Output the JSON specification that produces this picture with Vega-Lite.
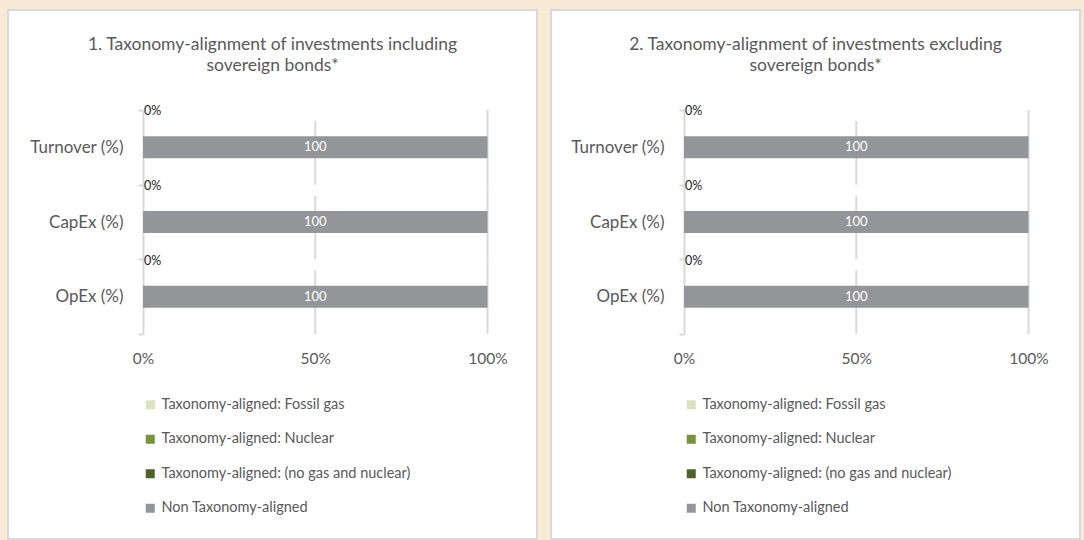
{
  "$schema": "https://vega.github.io/schema/vega-lite/v6.json",
  "background": "#F9E9D7",
  "padding": {"left": 7, "top": 0, "right": 3, "bottom": 0},
  "spacing": 12,
  "config": {
    "view": {"fill": "white", "stroke": "#d9d9d9", "strokeWidth": 2},
    "font": "Lato"
  },
  "resolve": {"scale": {"color": "independent"}, "legend": {"color": "independent"}},
  "datasets": {
    "bars": [
      {"panel": 1, "category": "Turnover (%)", "series": "Taxonomy-aligned: Fossil gas", "value": 0},
      {"panel": 1, "category": "Turnover (%)", "series": "Taxonomy-aligned: Nuclear", "value": 0},
      {"panel": 1, "category": "Turnover (%)", "series": "Taxonomy-aligned: (no gas and nuclear)", "value": 0},
      {"panel": 1, "category": "Turnover (%)", "series": "Non Taxonomy-aligned", "value": 100},
      {"panel": 1, "category": "CapEx (%)", "series": "Taxonomy-aligned: Fossil gas", "value": 0},
      {"panel": 1, "category": "CapEx (%)", "series": "Taxonomy-aligned: Nuclear", "value": 0},
      {"panel": 1, "category": "CapEx (%)", "series": "Taxonomy-aligned: (no gas and nuclear)", "value": 0},
      {"panel": 1, "category": "CapEx (%)", "series": "Non Taxonomy-aligned", "value": 100},
      {"panel": 1, "category": "OpEx (%)", "series": "Taxonomy-aligned: Fossil gas", "value": 0},
      {"panel": 1, "category": "OpEx (%)", "series": "Taxonomy-aligned: Nuclear", "value": 0},
      {"panel": 1, "category": "OpEx (%)", "series": "Taxonomy-aligned: (no gas and nuclear)", "value": 0},
      {"panel": 1, "category": "OpEx (%)", "series": "Non Taxonomy-aligned", "value": 100},
      {"panel": 2, "category": "Turnover (%)", "series": "Taxonomy-aligned: Fossil gas", "value": 0},
      {"panel": 2, "category": "Turnover (%)", "series": "Taxonomy-aligned: Nuclear", "value": 0},
      {"panel": 2, "category": "Turnover (%)", "series": "Taxonomy-aligned: (no gas and nuclear)", "value": 0},
      {"panel": 2, "category": "Turnover (%)", "series": "Non Taxonomy-aligned", "value": 100},
      {"panel": 2, "category": "CapEx (%)", "series": "Taxonomy-aligned: Fossil gas", "value": 0},
      {"panel": 2, "category": "CapEx (%)", "series": "Taxonomy-aligned: Nuclear", "value": 0},
      {"panel": 2, "category": "CapEx (%)", "series": "Taxonomy-aligned: (no gas and nuclear)", "value": 0},
      {"panel": 2, "category": "CapEx (%)", "series": "Non Taxonomy-aligned", "value": 100},
      {"panel": 2, "category": "OpEx (%)", "series": "Taxonomy-aligned: Fossil gas", "value": 0},
      {"panel": 2, "category": "OpEx (%)", "series": "Taxonomy-aligned: Nuclear", "value": 0},
      {"panel": 2, "category": "OpEx (%)", "series": "Taxonomy-aligned: (no gas and nuclear)", "value": 0},
      {"panel": 2, "category": "OpEx (%)", "series": "Non Taxonomy-aligned", "value": 100}
    ],
    "labels": [
      {"panel": 1, "category": "Turnover (%)", "aligned": 0, "non": 100},
      {"panel": 1, "category": "CapEx (%)", "aligned": 0, "non": 100},
      {"panel": 1, "category": "OpEx (%)", "aligned": 0, "non": 100},
      {"panel": 2, "category": "Turnover (%)", "aligned": 0, "non": 100},
      {"panel": 2, "category": "CapEx (%)", "aligned": 0, "non": 100},
      {"panel": 2, "category": "OpEx (%)", "aligned": 0, "non": 100}
    ]
  },
  "hconcat": [
    {
      "width": 529,
      "height": 529,
      "title": {"text": ["1. Taxonomy-alignment of investments including", "sovereign bonds*"], "offset": -45, "dy": 37, "baseline": "middle", "fontSize": 17.5, "fontWeight": "normal", "color": "#595959", "lineHeight": 21, "anchor": "middle", "frame": "group", "font": "Lato"},
      "layer": [
        {
          "data": {"name": "labels"},
          "transform": [{"filter": "datum.panel === 1"}],
          "mark": {"type": "rule", "color": "#d9d9d9", "strokeWidth": 2, "strokeDash": [64, 11], "strokeDashOffset": 64},
          "encoding": {
            "x": {"datum": 50, "type": "quantitative"},
            "y": {"field": "category", "type": "nominal", "bandPosition": 0, "sort": ["Turnover (%)", "CapEx (%)", "OpEx (%)"]},
            "y2": {"field": "category", "bandPosition": 1}
          }
        },
        {
          "data": {"name": "labels"},
          "transform": [{"filter": "datum.panel === 1"}],
          "mark": {"type": "rule", "color": "#d9d9d9", "strokeWidth": 2},
          "encoding": {
            "x": {"datum": 100, "type": "quantitative"},
            "y": {"field": "category", "type": "nominal", "bandPosition": 0, "sort": ["Turnover (%)", "CapEx (%)", "OpEx (%)"]},
            "y2": {"field": "category", "bandPosition": 1}
          }
        },
        {
          "data": {"name": "bars"},
          "transform": [{"filter": "datum.panel === 1"}],
          "mark": {"type": "bar", "height": 22},
          "encoding": {
            "y": {"field": "category", "type": "nominal", "sort": ["Turnover (%)", "CapEx (%)", "OpEx (%)"], "scale": {"range": [100, 324], "paddingInner": 0, "paddingOuter": 0},
              "axis": {"title": null, "orient": "left", "offset": -135, "domainColor": "#d9d9d9", "domainWidth": 2, "tickColor": "#d9d9d9", "tickWidth": 2, "tickSize": 5, "tickBand": "extent", "labelPadding": 15, "labelFontSize": 17, "labelColor": "#595959", "grid": false}},
            "x": {"field": "value", "type": "quantitative", "stack": "zero", "scale": {"domain": [0, 100], "range": [135, 479.5], "nice": false},
              "axis": {"title": null, "orient": "bottom", "offset": -205, "values": [0, 50, 100], "labelExpr": "datum.value + '%'", "domain": false, "ticks": false, "tickSize": 0, "labelPadding": 24, "labelBaseline": "middle", "labelFontSize": 15.5, "labelColor": "#595959", "labelFlush": false, "grid": false}},
            "color": {"field": "series", "type": "nominal",
              "scale": {"domain": ["Taxonomy-aligned: Fossil gas", "Taxonomy-aligned: Nuclear", "Taxonomy-aligned: (no gas and nuclear)", "Non Taxonomy-aligned"], "range": ["#d7e4bd", "#77933c", "#4f6228", "#939598"]},
              "legend": {"title": null, "orient": "none", "legendX": 135, "legendY": 387.5, "direction": "vertical", "symbolType": "square", "symbolSize": 81, "symbolStrokeWidth": 0, "labelFontSize": 14.5, "labelColor": "#595959", "labelLimit": 400, "rowPadding": 19.5, "labelOffset": 4, "padding": 0}}
          }
        },
        {
          "data": {"name": "labels"},
          "transform": [{"filter": "datum.panel === 1"}],
          "mark": {"type": "text", "align": "left", "baseline": "middle", "dy": -36, "dx": 1, "fontSize": 12.5, "color": "#1a1a1a"},
          "encoding": {
            "y": {"field": "category", "type": "nominal", "sort": ["Turnover (%)", "CapEx (%)", "OpEx (%)"]},
            "x": {"field": "aligned", "type": "quantitative"},
            "text": {"field": "aligned", "type": "quantitative", "format": ".0%"}
          }
        },
        {
          "data": {"name": "labels"},
          "transform": [{"filter": "datum.panel === 1"}],
          "mark": {"type": "text", "align": "center", "baseline": "middle", "fontSize": 13, "color": "white"},
          "encoding": {
            "y": {"field": "category", "type": "nominal", "sort": ["Turnover (%)", "CapEx (%)", "OpEx (%)"]},
            "x": {"datum": 50, "type": "quantitative"},
            "text": {"field": "non", "type": "quantitative", "format": "d"}
          }
        }
      ]
    },
    {
      "width": 529,
      "height": 529,
      "title": {"text": ["2. Taxonomy-alignment of investments excluding", "sovereign bonds*"], "offset": -45, "dy": 37, "baseline": "middle", "fontSize": 17.5, "fontWeight": "normal", "color": "#595959", "lineHeight": 21, "anchor": "middle", "frame": "group", "font": "Lato"},
      "layer": [
        {
          "data": {"name": "labels"},
          "transform": [{"filter": "datum.panel === 2"}],
          "mark": {"type": "rule", "color": "#d9d9d9", "strokeWidth": 2, "strokeDash": [64, 11], "strokeDashOffset": 64},
          "encoding": {
            "x": {"datum": 50, "type": "quantitative"},
            "y": {"field": "category", "type": "nominal", "bandPosition": 0, "sort": ["Turnover (%)", "CapEx (%)", "OpEx (%)"]},
            "y2": {"field": "category", "bandPosition": 1}
          }
        },
        {
          "data": {"name": "labels"},
          "transform": [{"filter": "datum.panel === 2"}],
          "mark": {"type": "rule", "color": "#d9d9d9", "strokeWidth": 2},
          "encoding": {
            "x": {"datum": 100, "type": "quantitative"},
            "y": {"field": "category", "type": "nominal", "bandPosition": 0, "sort": ["Turnover (%)", "CapEx (%)", "OpEx (%)"]},
            "y2": {"field": "category", "bandPosition": 1}
          }
        },
        {
          "data": {"name": "bars"},
          "transform": [{"filter": "datum.panel === 2"}],
          "mark": {"type": "bar", "height": 22},
          "encoding": {
            "y": {"field": "category", "type": "nominal", "sort": ["Turnover (%)", "CapEx (%)", "OpEx (%)"], "scale": {"range": [100, 324], "paddingInner": 0, "paddingOuter": 0},
              "axis": {"title": null, "orient": "left", "offset": -133, "domainColor": "#d9d9d9", "domainWidth": 2, "tickColor": "#d9d9d9", "tickWidth": 2, "tickSize": 5, "tickBand": "extent", "labelPadding": 15, "labelFontSize": 17, "labelColor": "#595959", "grid": false}},
            "x": {"field": "value", "type": "quantitative", "stack": "zero", "scale": {"domain": [0, 100], "range": [133, 477.5], "nice": false},
              "axis": {"title": null, "orient": "bottom", "offset": -205, "values": [0, 50, 100], "labelExpr": "datum.value + '%'", "domain": false, "ticks": false, "tickSize": 0, "labelPadding": 24, "labelBaseline": "middle", "labelFontSize": 15.5, "labelColor": "#595959", "labelFlush": false, "grid": false}},
            "color": {"field": "series", "type": "nominal",
              "scale": {"domain": ["Taxonomy-aligned: Fossil gas", "Taxonomy-aligned: Nuclear", "Taxonomy-aligned: (no gas and nuclear)", "Non Taxonomy-aligned"], "range": ["#d7e4bd", "#77933c", "#4f6228", "#939598"]},
              "legend": {"title": null, "orient": "none", "legendX": 133, "legendY": 387.5, "direction": "vertical", "symbolType": "square", "symbolSize": 81, "symbolStrokeWidth": 0, "labelFontSize": 14.5, "labelColor": "#595959", "labelLimit": 400, "rowPadding": 19.5, "labelOffset": 4, "padding": 0}}
          }
        },
        {
          "data": {"name": "labels"},
          "transform": [{"filter": "datum.panel === 2"}],
          "mark": {"type": "text", "align": "left", "baseline": "middle", "dy": -36, "dx": 1, "fontSize": 12.5, "color": "#1a1a1a"},
          "encoding": {
            "y": {"field": "category", "type": "nominal", "sort": ["Turnover (%)", "CapEx (%)", "OpEx (%)"]},
            "x": {"field": "aligned", "type": "quantitative"},
            "text": {"field": "aligned", "type": "quantitative", "format": ".0%"}
          }
        },
        {
          "data": {"name": "labels"},
          "transform": [{"filter": "datum.panel === 2"}],
          "mark": {"type": "text", "align": "center", "baseline": "middle", "fontSize": 13, "color": "white"},
          "encoding": {
            "y": {"field": "category", "type": "nominal", "sort": ["Turnover (%)", "CapEx (%)", "OpEx (%)"]},
            "x": {"datum": 50, "type": "quantitative"},
            "text": {"field": "non", "type": "quantitative", "format": "d"}
          }
        }
      ]
    }
  ]
}
